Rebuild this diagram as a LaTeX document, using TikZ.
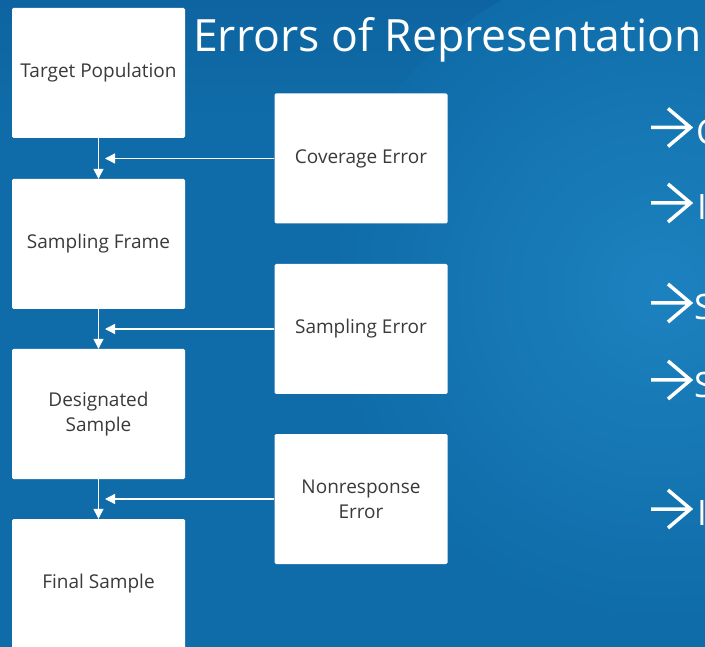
\documentclass[tikz,border=0pt]{standalone}
\usepackage{fontspec}
\setmainfont{Open Sans}
\usetikzlibrary{arrows.meta}

\definecolor{bgbase}{HTML}{0F6CA8}
\definecolor{bgtop}{HTML}{0E64A0}
\definecolor{bglight}{HTML}{1C82BF}
\definecolor{boxtext}{HTML}{3A3A3A}

\tikzset{
  stagebox/.style={fill=white,rounded corners=1.5pt,minimum width=173pt,minimum height=130pt,
    align=center,text=boxtext,font=\fontsize{19}{25}\selectfont},
  flow/.style={white,line width=1.3pt,-{Triangle[length=10pt,width=10pt]}},
  pointer/.style={white,line width=3.5pt,miter limit=4},
  bullet/.style={anchor=base west,text=white,inner sep=0pt,font=\fontsize{35}{40}\selectfont}
}

\begin{document}
\begin{tikzpicture}[x=1pt,y=-1pt]
      \clip (0,0) rectangle (705,647);
      \fill[bgbase] (0,0) rectangle (705,647);
      \shade[top color=bgtop,bottom color=bgbase] (0,0) rectangle (705,120);
      \shade[inner color=bglight,outer color=bgbase] (660,290) circle (330);

      \node[anchor=base west,text=white,inner sep=0pt,font=\fontsize{44.5}{50}\selectfont] (title) at (193,52) {Errors of Representation};

      \begin{scope}[every node/.style={stagebox}]
        \node[] (target) at (98.5,73) {Target Population};
        \node[] (frame) at (98.5,244) {Sampling Frame};
        \node[] (designated) at (98.5,414) {Designated\\Sample};
        \node[] (final) at (98.5,584) {Final Sample};

        \node[] (coverage) at (361,158.5) {Coverage Error};
        \node[] (sampling) at (361,329) {Sampling Error};
        \node[] (nonresponse) at (361,499) {Nonresponse\\Error};
      \end{scope}

      \coordinate (coverage_in) at (105,158.5);
      \coordinate (sampling_in) at (105,329);
      \coordinate (nonresponse_in) at (105,499);

      \begin{scope}
        \draw [flow] (target) -- (frame);
        \draw [flow] (frame) -- (designated);
        \draw [flow] (designated) -- (final);

        \draw [flow] (coverage) -- (coverage_in);
        \draw [flow] (sampling) -- (sampling_in);
        \draw [flow] (nonresponse) -- (nonresponse_in);
      \end{scope}

      % bullet arrows on the right, cut off by the edge
      \draw [pointer] (651,127.5) -- (690,127.5) (668,108.5) -- (690.5,127.5) -- (668,146.5);
      \draw [pointer] (651,203) -- (690,203) (668,184) -- (690.5,203) -- (668,222);
      \draw [pointer] (651,303) -- (690,303) (668,284) -- (690.5,303) -- (668,322);
      \draw [pointer] (651,380) -- (690,380) (668,361) -- (690.5,380) -- (668,399);
      \draw [pointer] (651,509) -- (690,509) (668,490) -- (690.5,509) -- (668,528);

      \begin{scope}[every node/.style={bullet}]
        \node[] (b1) at (696,145) {C};
        \node[] (b2) at (697,220) {I};
        \node[] (b3) at (694,320) {S};
        \node[] (b4) at (694,397) {S};
        \node[] (b5) at (697,525) {I};
      \end{scope}
\end{tikzpicture}
\end{document}
